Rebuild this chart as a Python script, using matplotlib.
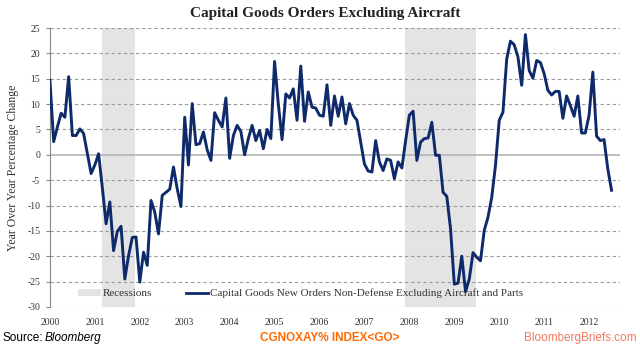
import numpy as np
import matplotlib.pyplot as plt
from matplotlib.patches import Patch
from matplotlib.lines import Line2D

# Year-over-year % change, monthly, Jan 2000 - Jul 2012
yoy = [
    14.7, 2.6, 5.5, 8.2, 7.4, 15.4, 3.8, 3.8, 5.1, 4.2,
    0.2, -3.7, -2.0, 0.2, -6.5, -13.6, -9.3, -18.9, -15.1, -14.1,
    -24.5, -19.9, -16.3, -16.2, -25.1, -19.2, -21.8, -9.0, -11.3, -15.6,
    -8.0, -7.4, -6.8, -2.4, -6.7, -10.2, 7.4, -2.0, 10.1, 2.0,
    2.2, 4.5, 1.0, -1.1, 8.3, 6.8, 5.5, 11.2, -0.7, 3.8,
    5.8, 4.6, 0.0, 3.2, 5.8, 2.8, 4.8, 1.2, 5.0, 3.2,
    18.4, 10.0, 3.0, 12.0, 11.2, 13.0, 6.8, 17.5, 6.6, 12.4,
    9.4, 9.2, 7.8, 7.6, 13.8, 5.8, 11.6, 7.6, 11.4, 6.1,
    10.1, 7.8, 6.8, 2.5, -1.8, -3.2, -3.4, 2.8, -1.4, -3.1,
    -0.8, -1.1, -4.7, -1.4, -2.6, 2.8, 7.8, 8.6, -1.1, 2.5,
    3.2, 3.3, 6.4, -0.1, -0.1, -7.4, -8.2, -14.6, -25.5, -25.3,
    -20.0, -27.0, -24.5, -19.3, -20.2, -20.9, -14.9, -12.3, -8.4, -2.1,
    6.8, 8.4, 18.9, 22.4, 21.7, 19.3, 13.7, 23.7, 16.6, 15.1,
    18.6, 18.2, 16.0, 12.7, 11.8, 12.5, 12.5, 7.2, 11.6, 9.7,
    7.6, 11.6, 4.3, 4.3, 7.8, 16.3, 3.7, 2.8, 3.0, -2.8,
    -7.0,
]
# recession months as (first, last) month index from Jan 2000
recessions = [(14, 22), (95, 113)]
years = list(range(2000, 2013))
yticks = list(range(-30, 30, 5))

serif = ['Liberation Serif', 'DejaVu Serif']
navy = '#0f2a6b'

fig = plt.figure(figsize=(6.4, 3.5), dpi=100)
ax = fig.add_axes([0.078, 0.123, 0.891, 0.797])

months = np.arange(len(yoy))
for start, end in recessions:
    ax.axvspan(start - 0.2, end + 0.7, color='#e4e4e4', lw=0, zorder=0)

for y in yticks:
    if y == 0:
        ax.axhline(y, color='#b4b4b4', lw=1.2, zorder=1)
    else:
        ax.axhline(y, color='#9a9a9a', lw=0.8, ls=(0, (3, 2.5)), zorder=1)

ax.plot(months, yoy, color=navy, lw=2.1, zorder=3)

ax.set_xlim(0, 152.3)
ax.set_ylim(-30, 25)
ax.set_yticks(yticks)
ax.set_yticklabels([str(y) for y in yticks], fontfamily=serif, fontsize=7, color='#333333')
ax.set_xticks([(y - 2000) * 12 for y in years])
ax.set_xticklabels([str(y) for y in years], fontfamily=serif, fontsize=7, color='#333333')
ax.tick_params(axis='x', length=0, pad=8)
ax.tick_params(axis='y', length=3, color='#888888', pad=4)
for side in ['top', 'right', 'bottom']:
    ax.spines[side].set_visible(False)
ax.spines['left'].set_color('#888888')

ax.set_ylabel('Year Over Year Percentage Change', fontfamily=serif, fontsize=8.5,
              color='#333333', labelpad=6)

handles = [Patch(facecolor='#e4e4e4', edgecolor='none'),
           Line2D([0], [0], color=navy, lw=2)]
labels = ['Recessions', 'Capital Goods New Orders Non-Defense Excluding Aircraft and Parts']
ax.legend(handles, labels, loc='center', bbox_to_anchor=(0.44, 0.048), ncol=2,
          frameon=False, prop={'family': serif, 'size': 8}, columnspacing=3,
          handlelength=2.0, handletextpad=0.2, labelcolor='#333333')

fig.text(0.508, 0.962, 'Capital Goods Orders Excluding Aircraft', ha='center', va='center',
         fontfamily=serif, fontsize=11, fontweight='bold', color='#222222')

fig.text(0.004, 0.035, 'Source:', ha='left', va='center', fontfamily='Liberation Sans',
         fontsize=8.5, color='black')
fig.text(0.07, 0.035, 'Bloomberg', ha='left', va='center', fontfamily='Liberation Sans',
         fontsize=8.5, style='italic', color='black')
fig.text(0.515, 0.035, 'CGNOXAY% INDEX<GO>', ha='center', va='center',
         fontfamily='Liberation Sans', fontsize=8.5, fontweight='bold', color='#ff6a00')
fig.text(0.995, 0.035, 'BloombergBriefs.com', ha='right', va='center',
         fontfamily='Liberation Sans', fontsize=8.5, color='#f27a5e')

fig.savefig('out.png', dpi=100)
